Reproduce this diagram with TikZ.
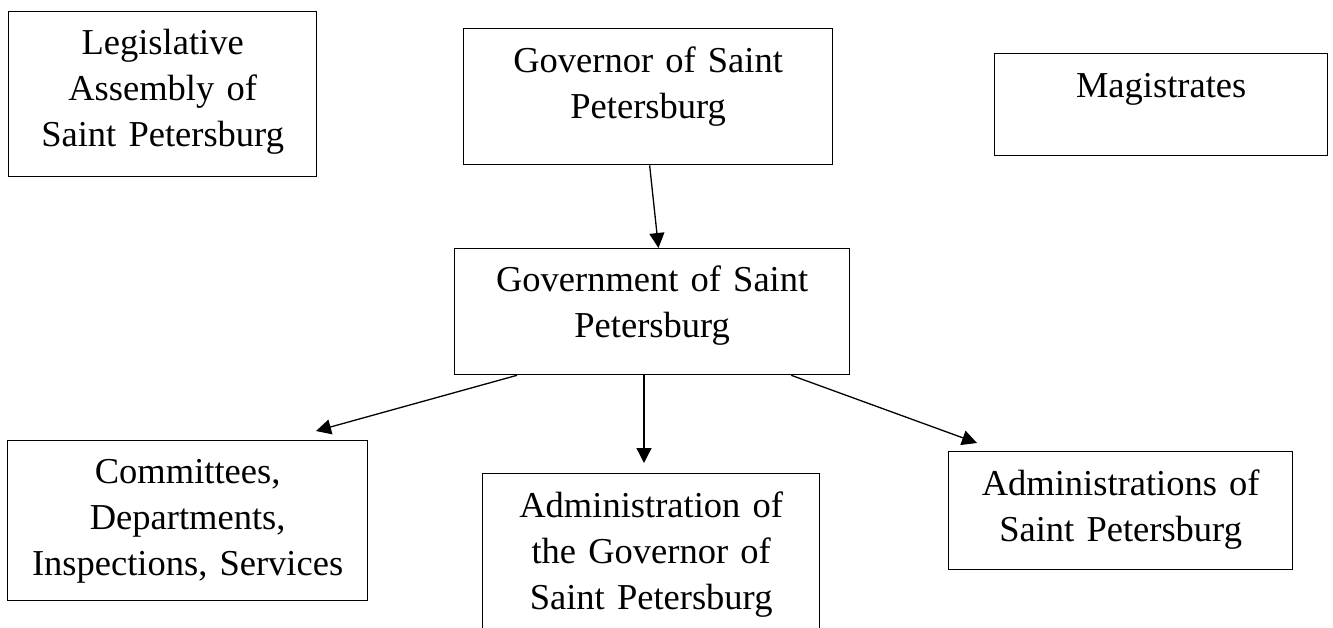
\documentclass[tikz,border=0pt]{standalone}
\usepackage{fontspec}
\setmainfont{Liberation Serif}
\usetikzlibrary{arrows.meta,calc}
\begin{document}
\begin{tikzpicture}[x=1pt,y=-1pt,
  boxnode/.style={draw, line width=1.3pt, inner sep=0pt, anchor=north west},
  txt/.style={inner sep=0pt, align=center, anchor=base, font=\fontsize{36.5}{46}\selectfont},
  arr/.style={line width=1.3pt, -{Triangle[length=15pt,width=15pt]}}]
\useasboundingbox (0,0) rectangle (1333,628);
% boxes
\node[boxnode, minimum width=308pt, minimum height=165pt] (leg) at (8,11) {};
\node[boxnode, minimum width=369pt, minimum height=136pt] (gov) at (463,28) {};
\node[boxnode, minimum width=333pt, minimum height=102pt] (mag) at (994,53) {};
\node[boxnode, minimum width=395pt, minimum height=126pt] (govt) at (454,248) {};
\node[boxnode, minimum width=360pt, minimum height=160pt] (com) at (7,440) {};
\node[boxnode, minimum width=337pt, minimum height=180pt] (adm) at (482,473) {};
\node[boxnode, minimum width=344pt, minimum height=118pt] (adms) at (948,451) {};
% texts
\node[txt, text width=308pt] (legT) at ($(leg.north)+(0,44)$) {Legislative\\Assembly of\\Saint Petersburg};
\node[txt, text width=369pt] (govT) at ($(gov.north)+(0,45)$) {Governor of Saint\\Petersburg};
\node[txt, text width=333pt] (magT) at ($(mag.north)+(0,45)$) {Magistrates};
\node[txt, text width=395pt] (govtT) at ($(govt.north)+(0,44)$) {Government of Saint\\Petersburg};
\node[txt, text width=360pt] (comT) at ($(com.north)+(0,43)$) {Committees,\\Departments,\\Inspections, Services};
\node[txt, text width=337pt] (admT) at ($(adm.north)+(0,44)$) {Administration of\\the Governor of\\Saint Petersburg};
\node[txt, text width=344pt] (admsT) at ($(adms.north)+(0,44)$) {Administrations of\\Saint Petersburg};
% connector ends
\coordinate (tCom) at (316,431);
\coordinate (tAdm) at (644,463);
\coordinate (tAdms) at (977,443);
% connectors
\draw[arr] ($(gov.south west)!0.504!(gov.south east)$) -- ($(govt.north west)!0.516!(govt.north east)$);
\draw[arr] ($(govt.south west)!0.159!(govt.south east)$) -- (tCom);
\draw[arr] (govt.south -| tAdm) -- (tAdm);
\draw[arr] ($(govt.south west)!0.851!(govt.south east)$) -- (tAdms);
\end{tikzpicture}
\end{document}
